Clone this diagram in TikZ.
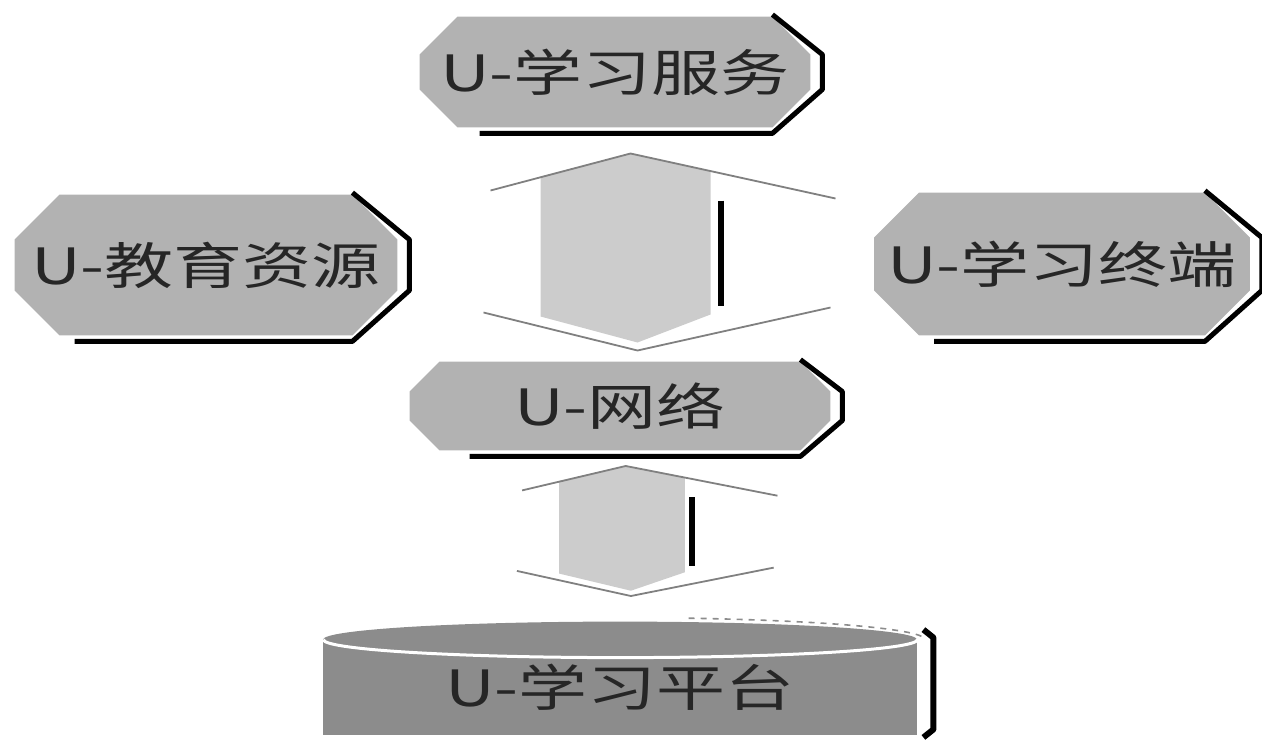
\documentclass[tikz,border=0pt]{standalone}
\usepackage{fontspec}
\newfontfamily\cjk[FakeStretch=1.38]{Noto Sans CJK SC}
\usetikzlibrary{calc,backgrounds}

% octagon with dark rim behind node #1, chamfer #2
\newcommand\octbox[2]{%
  \fill[boxfill] ($(#1.north west)+(#2,0)$) -- ($(#1.north east)+(-#2,0)$) -- ($(#1.north east)+(0,#2)$)
    -- ($(#1.south east)+(0,-#2)$) -- ($(#1.south east)+(-#2,0)$) -- ($(#1.south west)+(#2,0)$)
    -- ($(#1.south west)+(0,-#2)$) -- ($(#1.north west)+(0,#2)$) -- cycle;
  \draw[rimline] ($(#1.north east)+(-#2,-2)$) -- ($(#1.north east)+(12,#2)$) -- ($(#1.south east)+(12,-#2)$)
    -- ($(#1.south east)+(-#2,6)$) -- ($(#1.south west)+(60,6)$);
}

\begin{document}
\begin{tikzpicture}[x=0.5pt, y=-0.5pt,
  lbl/.style={font=\cjk\fontsize{25}{25}\selectfont, inner sep=0pt, text=black!85},
  boxfill/.style={fill=black!30},
  platfill/.style={fill=black!45},
  rimline/.style={draw=black, line width=2.5pt, line join=round},
  wing/.style={draw=black!50, line width=0.9pt},
  sideline/.style={draw=black, line width=3pt},
  dblarrow/.pic={
    \fill[black!20] (-85,-74) -- (5,-97) -- (85,-79) -- (85,64) -- (12,92) -- (-85,66) -- cycle;
    \draw[wing] (-135,-60) -- (5,-97) -- (210,-52);
    \draw[wing] (-142,62) -- (12,100) -- (205,57);
    \draw[sideline] (95,-50) -- (95,55);
  }]
  \useasboundingbox (0,0) rectangle (1262,744);

  \node[lbl, minimum width=195pt, minimum height=55pt] (serv) at (615,72) {U-学习服务};
  \node[lbl, minimum width=191pt, minimum height=70pt] (res) at (206,265) {U-教育资源};
  \node[lbl, minimum width=187.5pt, minimum height=71pt] (term) at (1062,264) {U-学习终端};
  \node[lbl, minimum width=210pt, minimum height=44pt] (net) at (620,406) {U-网络};
  \node[lbl, minimum width=297pt, minimum height=47.5pt] (plat) at (620,687.5) {U-学习平台};

  \begin{scope}[on background layer]
    \octbox{serv}{38}
    \octbox{res}{45}
    \octbox{term}{45}
    \octbox{net}{30}
    % platform cylinder
    \fill[platfill] (plat.north west) rectangle (plat.south east);
    \fill[platfill] (plat.north) ellipse [x radius=297, y radius=18];
    \draw[white, line width=1.5pt] (plat.north east) arc [start angle=0, end angle=180, x radius=297, y radius=18];
    \draw[black!45, dashed, line width=0.8pt] ($(plat.north)+(68.6,-21.4)$) arc [start angle=-77, end angle=0, x radius=305, y radius=22];
    \draw[rimline, line width=3pt] ($(plat.north east)+(6,-10)$) -- ($(plat.north east)+(16,-2)$)
      -- ($(plat.south east)+(16,-6)$) -- ($(plat.south east)+(6,2)$);
  \end{scope}

  \pic at ($(serv.south)!0.5!(net.north)+(8,6)$) {dblarrow};
  \pic[xscale=0.74, yscale=0.66] at ($(net.south)!0.5!(plat.north)+(2,-15)$) {dblarrow};
\end{tikzpicture}
\end{document}
